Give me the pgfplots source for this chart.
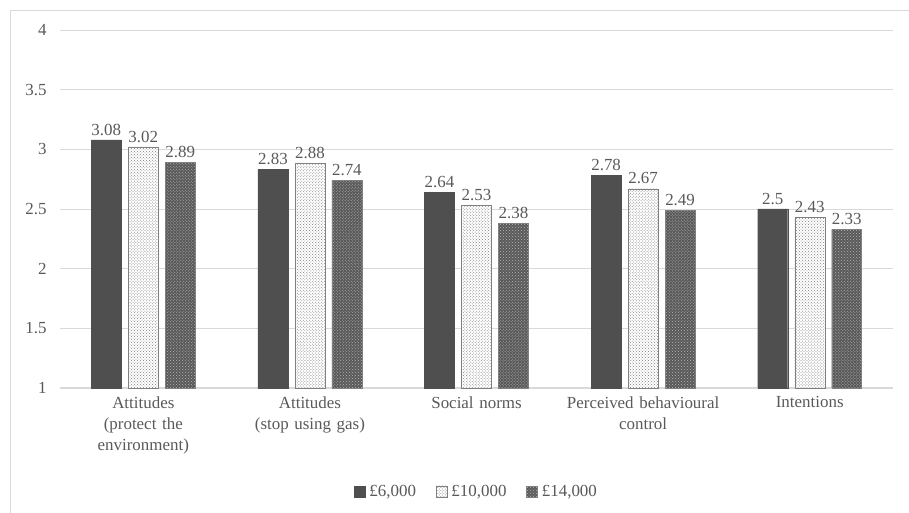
\documentclass[border=0pt]{standalone}
\usepackage{pgfplots}
\pgfplotsset{compat=1.18}
\usepackage{fontspec}
\setmainfont{Liberation Serif}
\usetikzlibrary{patterns}
\definecolor{txt}{HTML}{595959}
\definecolor{darkbar}{HTML}{4F4F4F}
\definecolor{gridc}{HTML}{D9D9D9}
\definecolor{edgec}{HTML}{808080}
\begin{document}
\begin{tikzpicture}[x=1bp,y=1bp]
\useasboundingbox (0,0) rectangle (909,513);
\draw[gridc, line width=0.8bp] (10,-1) rectangle (910,503);
\begin{axis}[
  at={(60bp,125bp)}, anchor=south west,
  scale only axis, width=833bp, height=358bp,
  xmin=-0.5, xmax=4.5, ymin=1, ymax=4,
  ytick={1,1.5,...,4},
  yticklabels={1,1.5,2,2.5,3,3.5,4},
  xtick={0,1,2,3,4},
  xticklabels={{Attitudes\\(protect the\\environment)},{Attitudes\\(stop using gas)},{Social norms},{Perceived behavioural\\control},{Intentions}},
  xticklabel style={align=center, text width=170bp, font=\fontsize{17}{21}\selectfont, text=txt, yshift=-5bp},
  yticklabel style={font=\fontsize{17}{20}\selectfont, text=txt, xshift=-10bp},
  /pgf/number format/assume math mode=true,
  axis x line*=bottom, axis y line*=left,
  x axis line style={gridc, line width=1bp, -},
  y axis line style={draw=none},
  ymajorgrids, grid style={gridc, line width=0.8bp},
  major tick length=0pt,
  ybar, bar width=0.18,
  nodes near coords,
  every node near coord/.append style={font=\fontsize{17}{20}\selectfont, text=txt, /pgf/number format/assume math mode=true, yshift=1bp},
  legend style={at={(0.5,-0.29)}, anchor=center, draw=none, legend columns=-1, font=\fontsize{17}{20}\selectfont, text=txt, /tikz/every even column/.append style={column sep=18bp}},
  legend image code/.code={\draw[#1] (0bp,-5bp) rectangle (11bp,6bp); \path (13bp,0bp);},
  clip=false,
]
\addplot[fill=darkbar, draw=darkbar, bar shift=-0.222] coordinates {(0,3.08) (1,2.83) (2,2.64) (3,2.78) (4,2.5)};
\addplot[fill=white, draw=edgec, bar shift=0, postaction={pattern=crosshatch dots, pattern color=black!50}] coordinates {(0,3.02) (1,2.88) (2,2.53) (3,2.67) (4,2.43)};
\addplot[fill=black!65, draw=edgec, bar shift=0.222, postaction={pattern=crosshatch dots, pattern color=white!72!black}] coordinates {(0,2.89) (1,2.74) (2,2.38) (3,2.49) (4,2.33)};
\legend{£6{,}000,£10{,}000,£14{,}000}
\end{axis}
\end{tikzpicture}
\end{document}
